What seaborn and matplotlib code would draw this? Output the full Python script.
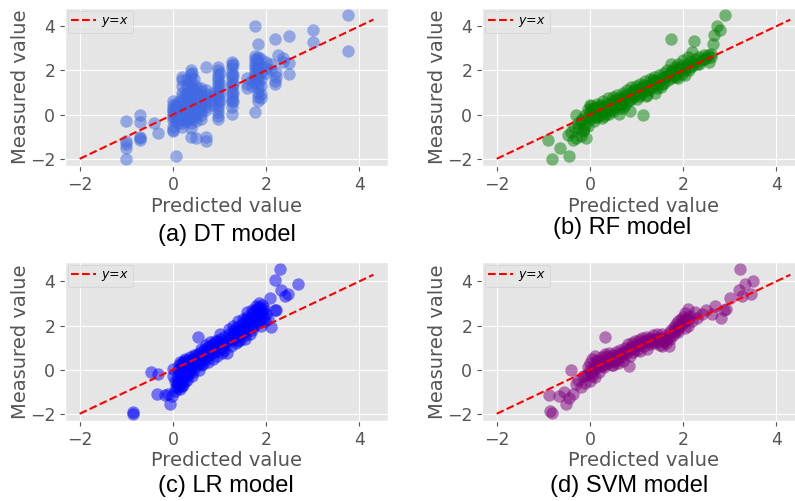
import matplotlib
matplotlib.use("Agg")
import matplotlib.pyplot as plt
import seaborn as sns
import pandas as pd

# ---- data ----
# DT model: tree predictions fall in discrete columns
dt_cols = [-1.0, -0.71, -0.4, -0.33, 0.0, 0.06, 0.12, 0.2, 0.25, 0.3, 0.38, 0.42, 0.45, 0.5, 0.6,
           0.7, 0.85, 0.97, 1.0, 1.27, 1.3, 1.6, 1.7, 1.76, 1.8, 1.83, 1.9, 2.0, 2.1, 2.18, 2.22,
           2.26, 2.37, 2.5, 3.0, 3.76]
dt_meas = [
    [-0.29, -1.2, -1.35, -1.53, -2.0],
    [0.0, -0.33, -1.0, -1.08, -1.16],
    [-0.4],
    [-0.81],
    [0.6, 0.45, 0.3, 0.2, 0.1, 0.0, -0.1, -0.25, -0.55, -0.7, -0.75],
    [-1.86, 0.5, 0.35, 0.15, -0.05, -0.3],
    [0.55, 0.4, 0.25, 0.05, -0.15, -0.4],
    [1.55, 1.7, 1.3, 1.0, 0.8, 0.6, 0.4, 0.2, 0.0, -0.2, -0.4, -0.55],
    [0.9, 0.5, 0.1, -0.3],
    [1.6, 1.4, 1.2, 1.0, 0.9, 0.75, 0.6, 0.45, 0.3, 0.15, 0.0, -0.15, -0.3],
    [2.0, 1.85, 1.7, 1.5, 1.3, 1.1, 0.95, 0.8, 0.6, 0.4, 0.2, 0.0, -0.2, -0.4, -0.6, -1.0],
    [1.9, 1.2, 0.7, 0.3, -0.1],
    [1.6, 1.0, 0.5, 0.0],
    [1.3, 1.15, 1.0, 0.85, 0.7, 0.55, 0.4, 0.2, 0.05, -0.1, -0.3, -1.08],
    [1.2, 1.05, 0.9, 0.75, 0.6, 0.45, 0.3, 0.15, 0.0, -0.2],
    [2.15, 1.1, 0.95, 0.8, 0.65, 0.5, 0.35, 0.2, -1.0, -1.2],
    [1.0, 0.8, 0.6, 0.45],
    [2.15, 2.0, 1.8, 1.65, 1.5, 1.35, 1.2, 1.05, 0.9, 0.75, 0.6, 0.45, 0.3, 0.1, -0.05, -0.2],
    [1.9, 1.4, 1.0, 0.6],
    [2.4, 2.25, 2.1, 1.9, 1.75, 1.6, 1.45, 1.3, 1.15, 1.0, 0.85, 0.7, 0.55, 0.35, 0.05],
    [2.3, 1.8, 1.4, 1.0, 0.6],
    [1.65, 1.4, 1.2],
    [1.3, 1.55],
    [4.03, 2.67, 2.5, 2.35, 2.2, 2.05, 1.9, 1.75, 1.6, 1.45, 0.12],
    [2.5, 2.1, 1.7],
    [3.2, 2.6, 2.4, 2.2, 2.0, 1.8, 1.6, 1.4, 1.2, 1.0, 0.8, 0.6],
    [2.5, 2.2, 1.9, 1.6, 1.3, 0.95, 0.75],
    [2.38, 2.1, 1.9],
    [2.3, 2.0],
    [3.43, 1.4, 1.5],
    [1.7, 1.95],
    [2.68],
    [2.38, 2.55],
    [3.58, 1.85, 2.35],
    [3.85, 3.3],
    [4.5, 2.86],
]

rf_pred = [-0.81, -0.64, -0.44, -0.9, -0.47, -0.37, -0.08, -0.4, -0.3, -0.2, -0.15, -0.35, -0.25, -0.3,
           -0.18, -0.1, -0.05, -0.25, -0.2, -0.12, -0.1, -0.05,
           0.0, 0.0, 0.03, 0.05, 0.08, 0.1, 0.12, 0.15, 0.15, 0.18, 0.2, 0.22, 0.25, 0.28, 0.3, 0.3,
           0.33, 0.36, 0.38, 0.4, 0.42, 0.45, 0.48, 0.5, 0.5, 0.53, 0.55, 0.58, 0.6, 0.62, 0.63, 0.65,
           0.68, 0.7, 0.72, 0.75, 0.78, 0.8, 0.82, 0.85, 0.87, 0.88, 0.9, 0.92, 0.95, 0.98, 1.0, 1.02,
           1.05, 1.08, 1.1, 1.12, 1.14, 1.15, 1.18, 1.2, 1.22, 1.25, 1.28, 1.3, 1.33, 1.35, 1.38, 1.4,
           1.42, 1.45, 1.48, 1.5, 1.52, 1.55, 1.58, 1.6, 1.62, 1.65, 1.68, 1.7, 1.73, 1.73, 1.75, 1.78,
           1.8, 1.82, 1.85, 1.88, 1.9, 1.92, 1.95, 1.98, 2.0, 2.02, 2.05, 2.08, 2.1, 2.12, 2.15, 2.18,
           2.2, 2.24, 2.25, 2.3, 2.35, 2.4, 2.45, 2.5, 2.54, 2.6, 2.55,
           0.05, 0.1, 0.2, 0.25, 0.35, 0.45, 0.55, 0.65, 0.75, 0.85, 0.95, 1.05, 1.15, 1.25, 1.35,
           1.45, 1.55, 1.65, 1.75, 1.85, 1.95, 2.05, 2.15, 2.25, 2.35, 2.45, 2.6, 0.0, -0.05, 0.7, 1.2,
           2.89, 2.72, 2.8, 2.67, 2.64]
rf_meas = [-2.0, -1.53, -1.86, -1.16, -0.93, -1.16, -1.08, -0.78, -1.05, -0.95, -0.75, -0.55, -0.4, -0.03,
           -0.2, -0.45, -0.1, -0.6, -0.3, -0.65, 0.0, -0.5,
           0.15, -0.2, 0.4, 0.05, -0.3, 0.3, 0.1, 0.5, -0.1, 0.25, 0.0, 0.45, 0.2, 0.6, -0.05, 0.35,
           0.15, 0.5, 0.75, 0.3, 0.05, 0.55, 0.35, 0.8, 0.15, 0.6, 0.4, 0.9, 0.55, 0.05, 0.3, 0.75,
           0.5, 1.0, 0.7, 0.45, 0.85, 1.1, 0.6, 0.9, 0.15, 1.25, 0.75, 1.05, 0.85, 1.3, 1.0, 0.7,
           1.15, 1.4, 0.95, 1.25, -0.03, 1.05, 1.5, 1.2, 0.9, 1.35, 1.6, 1.15, 1.45, 1.3, 1.7, 1.0,
           1.5, 1.35, 1.8, 1.55, 1.25, 1.65, 1.9, 1.45, 1.7, 2.0, 1.55, 1.8, 2.3, 3.43, 1.65, 2.0,
           1.75, 2.15, 1.9, 2.3, 1.65, 2.05, 2.2, 1.85, 2.45, 2.1, 1.8, 2.3, 2.6, 2.0, 2.4, 2.83,
           2.2, 3.31, 2.5, 2.3, 2.6, 2.45, 2.7, 2.55, 2.68, 2.75, 2.4,
           0.25, -0.1, 0.35, -0.15, 0.05, 0.2, 0.7, 0.45, 0.9, 0.65, 1.1, 0.85, 1.35, 1.1, 1.55,
           1.2, 1.4, 1.75, 1.95, 1.7, 2.05, 2.0, 2.15, 2.35, 2.3, 2.5, 2.6, 0.45, 0.25, 0.3, 0.85,
           4.5, 4.03, 3.85, 3.61, 3.2]

lr_pred = [-0.86, -0.86, -0.47, -0.33, -0.35, -0.17, -0.07, -0.01, 0.06, 0.54, 0.0, 0.05, -0.1,
           0.0, 0.05, 0.15, 0.2, 0.1, 0.25,
           0.08, 0.1, 0.1, 0.12, 0.13, 0.15, 0.17, 0.18, 0.2, 0.2, 0.22, 0.24, 0.25, 0.27, 0.28, 0.3,
           0.32, 0.33, 0.35, 0.37, 0.38, 0.4, 0.42, 0.44, 0.45, 0.48, 0.5, 0.5, 0.53, 0.55, 0.57, 0.6,
           0.6, 0.62, 0.65, 0.67, 0.7, 0.72, 0.74, 0.76, 0.78, 0.8, 0.82, 0.85, 0.87, 0.9, 0.92, 0.95,
           0.97, 1.0, 1.02, 1.05, 1.07, 1.1, 1.12, 1.15, 1.17, 1.2, 1.22, 1.25, 1.28, 1.3, 1.32, 1.35,
           1.37, 1.4, 1.42, 1.45, 1.47, 1.5, 1.52, 1.55, 1.57, 1.6, 1.6, 1.62, 1.65, 1.67, 1.7, 1.72,
           1.75, 1.77, 1.8, 1.82, 1.85, 1.88, 1.9, 1.93, 1.95, 1.98, 1.55, 1.4,
           0.12, 0.18, 0.22, 0.3, 0.35, 0.4, 0.15, 0.25, 0.45, 0.55, 0.65, 0.75, 0.85, 0.95, 1.05,
           1.1, 1.25, 1.35, 1.45, 1.55, 1.65, 1.7, 1.75, 1.8, 1.85, 1.9, 1.7, 1.6, 1.5, 1.4, 1.3,
           1.2, 1.0, 0.9, 0.8, 0.7, 0.6, 2.0, 1.95, 2.05, 1.78, 1.92, 1.85,
           2.08, 2.18, 2.1, 2.29, 2.2, 2.68, 2.33, 2.48, 2.4, 2.22]
lr_meas = [-1.91, -2.0, -0.1, -0.2, -1.1, -1.15, -1.56, -1.18, -0.8, 1.47, 0.05, -0.95, -1.1,
           -0.3, -0.5, -0.9, -0.75, -0.85, -0.3,
           -0.6, -0.3, 0.0, -0.45, 0.2, -0.15, -0.6, 0.1, -0.35, 0.3, -0.05, 0.4, -0.5, 0.15, -0.2, 0.45,
           0.05, -0.25, 0.3, 0.55, 0.0, 0.2, 0.5, -0.1, 0.35, 0.6, 0.15, 0.45, 0.7, 0.3, 0.55, 0.8,
           0.2, 0.45, 0.65, 0.9, 0.5, 0.75, 1.0, 0.6, 0.85, 1.05, 0.7, 0.95, 1.15, 0.8, 1.05, 1.3,
           0.9, 1.15, 1.4, 1.0, 1.25, 1.5, 1.15, 1.35, 0.75, 1.6, 1.3, 1.5, 1.75, 1.4, 1.65, 1.9,
           1.5, 1.75, 2.0, 1.6, 1.85, 2.1, 1.7, 1.95, 2.25, 1.85, 2.4, 2.1, 2.35, 1.95, 2.5, 2.2,
           2.65, 2.35, 2.75, 2.5, 2.85, 2.6, 2.3, 2.7, 2.45, 2.2, 1.55, 1.3,
           -0.7, -0.5, -0.7, -0.45, -0.1, -0.3, 0.35, 0.5, 0.65, 0.0, 0.25, 0.35, 0.5, 0.6, 0.75,
           0.9, 1.05, 1.2, 1.35, 1.4, 1.6, 1.8, 2.0, 2.1, 2.2, 2.0, 2.7, 2.6, 2.3, 2.2, 2.0,
           1.85, 1.6, 1.3, 1.25, 1.1, 0.95, 2.5, 2.8, 2.3, 2.9, 2.95, 3.0,
           3.24, 2.68, 1.91, 4.55, 4.05, 3.89, 3.59, 3.44, 3.33, 2.7]

svm_pred = [-0.86, -0.81, -0.88, -0.67, -0.51, -0.55, -0.37, -0.3, -0.4, 0.33, 0.84, -0.45, -0.2, -0.25, -0.15,
            -0.1, -0.05, 0.0, 0.0, 0.02, 0.05, 0.07, 0.1, 0.1, 0.12, 0.15, 0.17, 0.2, 0.22, 0.25, 0.27,
            0.3, 0.32, 0.35, 0.37, 0.4, 0.42, 0.45, 0.47, 0.5, 0.52, 0.55, 0.57, 0.6, 0.62, 0.65, 0.67,
            0.7, 0.72, 0.75, 0.77, 0.8, 0.82, 0.85, 0.87, 0.9, 0.92, 0.95, 0.97, 1.0, 1.02, 1.05, 1.07,
            1.1, 1.12, 1.15, 1.17, 1.2, 1.23, 1.25, 1.28, 1.3, 1.33, 1.35, 1.38, 1.4, 1.43, 1.45, 1.48,
            1.5, 1.52, 1.55, 1.55, 1.58, 1.6, 1.63, 1.65, 1.69, 1.7, 1.72, 1.75, 1.78, 1.8, 1.82, 1.85,
            1.87, 1.9, 1.92, 1.95, 1.97, 2.0, 2.02, 2.05, 2.07, 2.1, 2.11, 2.15, 2.2, 2.3, 2.25, 2.4,
            2.61, 2.68, 2.82, 2.88, 2.93, 2.5,
            0.05, 0.15, 0.25, 0.35, 0.45, 0.55, 0.65, 0.75, 0.85, 0.95, 1.05, 1.15, 1.25, 1.35, 1.45,
            1.6, 1.7, 1.8, 1.9, 2.0, 2.1, -0.1, 0.0, -0.05, 0.1, 0.3, 0.5, 0.6, 1.9, 2.05,
            3.22, 3.32, 3.5, 3.19, 3.46, 3.27, 3.0]
svm_meas = [-1.86, -1.98, -1.15, -1.18, -1.56, -1.03, -1.1, -0.65, -0.02, 1.47, 0.18, -1.3, -0.8, -0.45, -0.3,
            -0.3, 0.1, -0.5, 0.3, -0.15, 0.5, 0.0, -0.35, 0.25, 0.6, 0.1, 0.4, -0.1, 0.3, 0.55, 0.15,
            0.4, 0.7, 0.25, 0.5, 0.75, 0.35, 0.55, 0.2, 0.65, 0.4, 0.8, 0.5, 0.3, 0.7, 0.9, 0.55,
            0.8, 0.4, 1.0, 0.7, 0.9, 1.15, 0.6, 0.95, 1.2, 0.8, 1.05, 1.3, 0.9, 1.15, 1.35, 0.85,
            1.2, 1.45, 1.05, 1.3, 1.5, 0.94, 1.25, 1.45, 1.15, 1.35, 1.55, 1.2, 1.4, 1.6, 1.25, 1.45,
            1.1, 1.35, 1.6, 1.09, 1.3, 1.5, 1.2, 1.45, 1.06, 1.65, 1.4, 1.8, 1.55, 1.95, 1.7, 2.05,
            1.8, 2.2, 1.95, 2.3, 2.05, 2.4, 2.15, 2.55, 2.3, 2.0, 2.74, 2.45, 2.2, 2.36, 2.6, 2.5,
            2.5, 2.9, 2.32, 2.68, 2.74, 2.7,
            -0.3, 0.45, 0.2, 0.6, 0.4, 0.6, 0.6, 0.75, 1.0, 0.95, 1.1, 1.25, 1.35, 1.3, 1.4,
            1.3, 1.5, 1.8, 2.0, 2.2, 2.3, -0.6, 0.0, -0.2, 0.05, 0.1, 0.2, 0.45, 1.7, 1.9,
            4.55, 3.89, 4.0, 3.59, 3.44, 3.33, 3.24]

# expand DT columns into point table
dt_pred = [c for c, ys in zip(dt_cols, dt_meas) for _ in ys]
dt_y = [y for ys in dt_meas for y in ys]

panels = [
    ("(a) DT model", dt_pred, dt_y, "royalblue"),
    ("(b) RF model", rf_pred, rf_meas, "green"),
    ("(c) LR model", lr_pred, lr_meas, "blue"),
    ("(d) SVM model", svm_pred, svm_meas, "purple"),
]

plt.style.use("ggplot")
plt.rcParams["font.family"] = ["DejaVu Sans"]

fig = plt.figure(figsize=(7.95, 5.01), dpi=100)
W, H = 795, 501
# axes boxes in pixels: left, top, width, height
boxes = [(65, 8, 323, 158), (482, 8, 323, 158), (65, 262, 323, 159), (482, 262, 323, 159)]
# caption positions (center x, baseline y) in pixels
caps = [(227, 241), (622, 234), (226, 492), (629, 492)]

for (title, xs, ys, col), (l, t, w, h), (cx, cy) in zip(panels, boxes, caps):
    ax = fig.add_axes([l / W, 1 - (t + h) / H, w / W, h / H])
    df = pd.DataFrame({"pred": xs, "meas": ys})
    sns.scatterplot(data=df, x="pred", y="meas", ax=ax, color=col, alpha=0.5, s=80, linewidth=0)
    ax.plot([-2, 4.3], [-2, 4.3], "r--", lw=1.5, label="$y$=$x$")
    ax.set_xticks([-2, 0, 2, 4])
    ax.set_yticks([-2, 0, 2, 4])
    ax.tick_params(labelsize=12.5, colors="#555555")
    ax.set_xlabel("Predicted value", fontsize=14, color="#555555", labelpad=2)
    ax.set_ylabel("Measured value", fontsize=14, color="#555555", labelpad=0)
    ax.legend(loc="upper left", fontsize=9, handlelength=2, borderpad=0.3,
              borderaxespad=0.2, handletextpad=0.4)
    fig.text(cx / W, 1 - cy / H, title, ha="center", va="baseline", fontsize=17,
             family="Liberation Sans", color="black")

fig.savefig("out.png", dpi=100)
